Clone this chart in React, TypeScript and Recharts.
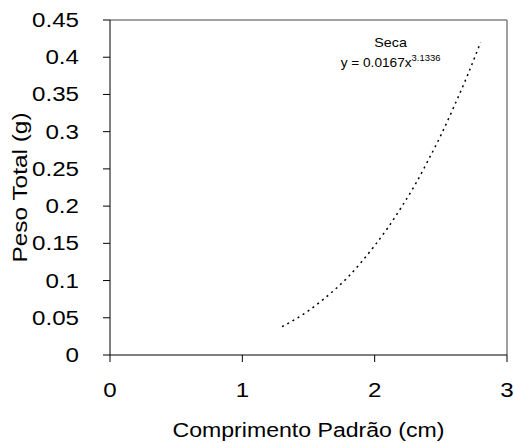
import React from "react";
import { LineChart, Line, XAxis, YAxis, ReferenceLine, ReferenceDot } from "recharts";

const lengths = [1.3, 1.4, 1.5, 1.6, 1.7, 1.8, 1.9, 2.0, 2.1, 2.2, 2.3, 2.4, 2.5, 2.6, 2.7, 2.8];
const weights = [0.038, 0.048, 0.0595, 0.073, 0.088, 0.105, 0.125, 0.147, 0.171, 0.198, 0.227, 0.26, 0.295, 0.334, 0.375, 0.42];
const xTicks = [0, 1, 2, 3];
const yTicks = [0, 0.05, 0.1, 0.15, 0.2, 0.25, 0.3, 0.35, 0.4, 0.45];
const yTickLabels = ["0", "0.05", "0.1", "0.15", "0.2", "0.25", "0.3", "0.35", "0.4", "0.45"];
const xTitle = "Comprimento Padrão (cm)";
const yTitle = "Peso Total (g)";
const seriesName = "Seca";
const equation = "y = 0.0167x";
const exponent = "3.1336";

const data = lengths.map((x, i) => ({ x, y: weights[i] }));

const FONT = "'Liberation Sans', Arial, sans-serif";
const SX = 1.15;

const XTick = (props: any) => {
  const { x, y, payload } = props;
  return (
    <g transform={`translate(${x},${y})`}>
      <text x={0} y={0} dy={35} textAnchor="middle" fontSize={21} fontFamily={FONT} fill="#000" transform={`scale(${SX},1)`}>
        {String(payload.value)}
      </text>
    </g>
  );
};

const YTick = (props: any) => {
  const { x, y, payload } = props;
  const idx = yTicks.findIndex((t) => Math.abs(t - payload.value) < 1e-9);
  const label = idx >= 0 ? yTickLabels[idx] : String(payload.value);
  return (
    <g transform={`translate(${x - 24},${y})`}>
      <text x={0} y={0} dy={7} textAnchor="end" fontSize={21} fontFamily={FONT} fill="#000" transform={`scale(${SX},1)`}>
        {label}
      </text>
    </g>
  );
};

const XTitle = (props: any) => {
  const vb = props.viewBox;
  const cx = vb.x + vb.width / 2;
  const by = vb.y + 82;
  return (
    <g transform={`translate(${cx},${by})`}>
      <text x={0} y={0} textAnchor="middle" fontSize={21} fontFamily={FONT} fill="#000" transform={`scale(1.1,1)`}>
        {xTitle}
      </text>
    </g>
  );
};

const YTitle = (props: any) => {
  const vb = props.viewBox;
  const cy = vb.y + vb.height / 2;
  return (
    <g transform={`translate(27,${cy}) rotate(-90)`}>
      <text x={0} y={0} textAnchor="middle" fontSize={20} fontFamily={FONT} fill="#000" transform="scale(1.22,1)">
        {yTitle}
      </text>
    </g>
  );
};

const Annotation = (props: any) => {
  const vb = props.viewBox || {};
  const cx = vb.x + (vb.width || 0) / 2;
  const cy = vb.y + (vb.height || 0) / 2;
  return (
    <g transform={`translate(${cx},${cy})`}>
      <text x={0} y={0} textAnchor="middle" fontSize={13} fontFamily={FONT} fill="#000" transform={`scale(1.1,1)`}>
        {seriesName}
      </text>
      <text x={0} y={20} textAnchor="middle" fontSize={13} fontFamily={FONT} fill="#000" transform={`scale(1.05,1)`}>
        {equation}
        <tspan fontSize={9} dy={-6}>{exponent}</tspan>
      </text>
    </g>
  );
};

export default function App() {
  return (
    <div style={{ position: "absolute", left: 0, top: 0, width: 514, height: 443, overflow: "hidden" }}>
      <LineChart width={514} height={443} data={data} margin={{ top: 20, right: 7, bottom: 0, left: 0 }}>
        <XAxis
          dataKey="x"
          type="number"
          domain={[0, 3]}
          ticks={xTicks}
          interval={0}
          height={88}
          tickSize={7}
          tickMargin={0}
          stroke="#000"
          tick={<XTick />}
          label={<XTitle />}
        />
        <YAxis
          type="number"
          domain={[0, 0.45]}
          ticks={yTicks}
          interval={0}
          width={110}
          tickSize={7}
          tickMargin={0}
          stroke="#000"
          tick={<YTick />}
          label={<YTitle />}
        />
        <ReferenceLine y={0.45} stroke="#808080" strokeWidth={1.5} />
        <ReferenceLine x={3} stroke="#808080" strokeWidth={1.5} />
        <ReferenceDot x={2.12} y={0.4137} r={0} fill="none" stroke="none" label={<Annotation />} />
        <Line
          type="monotone"
          dataKey="y"
          stroke="#000"
          strokeWidth={1.5}
          strokeDasharray="2 4"
          dot={false}
          isAnimationActive={false}
        />
      </LineChart>
    </div>
  );
}
